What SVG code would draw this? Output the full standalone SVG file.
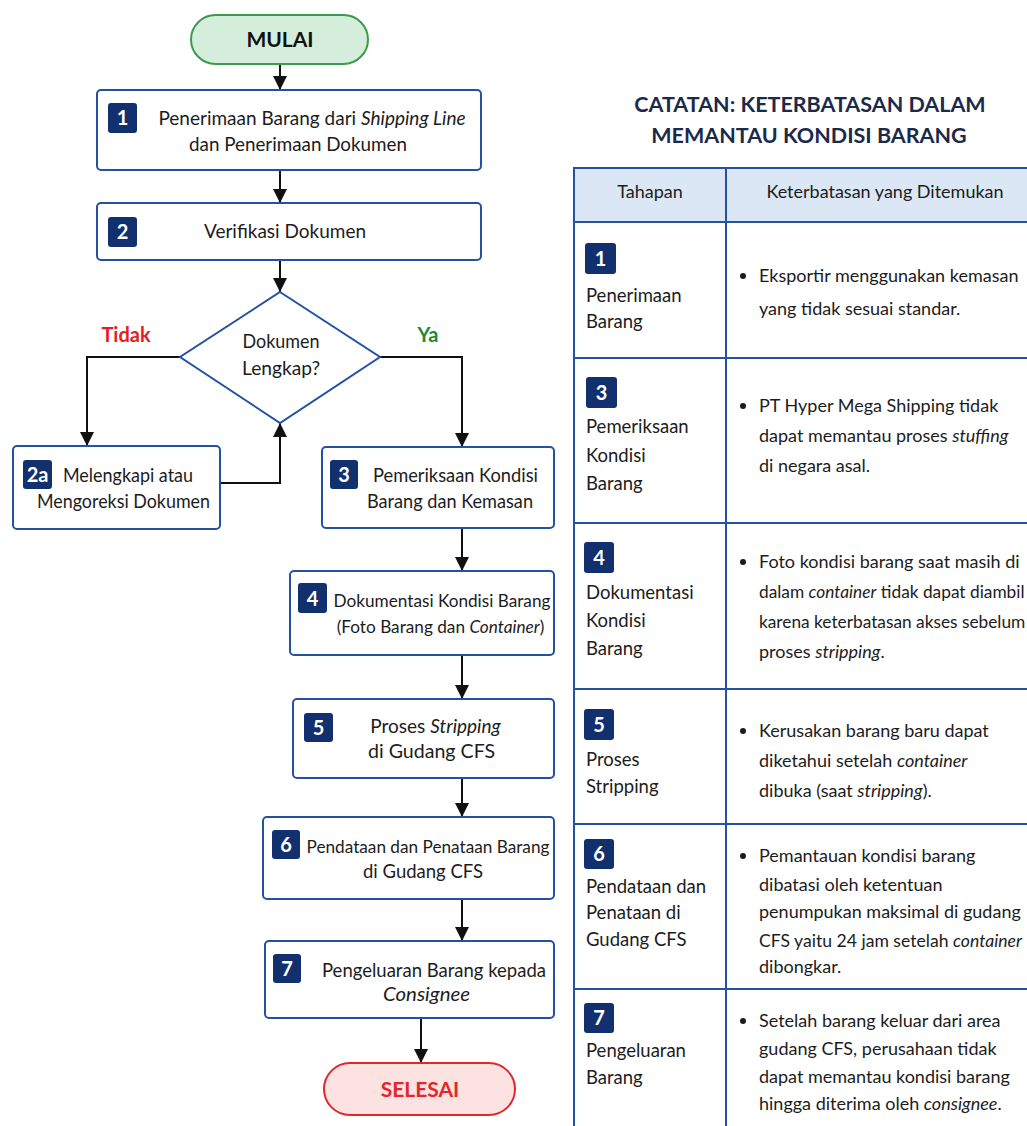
<svg xmlns="http://www.w3.org/2000/svg" width="1027" height="1126" viewBox="0 0 1027 1126">
<style>
.t{font-family:Lato,"Liberation Sans",sans-serif;font-size:18px;fill:#1c1c1c}
.f{font-family:Lato,"Liberation Sans",sans-serif;font-size:19px;fill:#1c1c1c;text-anchor:middle}
.l{font-family:Lato,"Liberation Sans",sans-serif;font-size:18.5px;fill:#1c1c1c}
.m{text-anchor:middle}
.i{font-style:italic}
.s17{font-size:17.2px}
.s174{font-size:17.3px}
.s176{font-size:17.6px}
.box{fill:#fff;stroke:#2451a3;stroke-width:2}
.badge{fill:#13306e}
.bn{font-family:Lato,"Liberation Sans",sans-serif;font-size:20px;font-weight:700;fill:#fff;text-anchor:middle}
.con{fill:none;stroke:#111;stroke-width:2}
.tb{fill:none;stroke:#2451a3;stroke-width:2}
.hd{font-family:Lato,"Liberation Sans",sans-serif;font-size:21.5px;font-weight:700;fill:#1b2a4a;text-anchor:middle}
</style>
<defs>
<marker id="ah" viewBox="0 0 14 14" refX="14" refY="7" markerWidth="14" markerHeight="14" markerUnits="userSpaceOnUse" orient="auto">
<path d="M0,0 L14,7 L0,14 z" fill="#111"/>
</marker>
</defs>
<rect width="1027" height="1126" fill="#fff"/>

<g id="connectors">
<path class="con" d="M280,64 V90" marker-end="url(#ah)"/>
<path class="con" d="M280,170 V203" marker-end="url(#ah)"/>
<path class="con" d="M280,260 V292" marker-end="url(#ah)"/>
<path class="con" d="M180,357 H87 V446" marker-end="url(#ah)"/>
<path class="con" d="M220,483 H280 V423" marker-end="url(#ah)"/>
<path class="con" d="M380,357 H462 V447" marker-end="url(#ah)"/>
<path class="con" d="M462,528 V571" marker-end="url(#ah)"/>
<path class="con" d="M462,655 V699" marker-end="url(#ah)"/>
<path class="con" d="M462,778 V817" marker-end="url(#ah)"/>
<path class="con" d="M462,899 V941" marker-end="url(#ah)"/>
<path class="con" d="M421,1018 V1063" marker-end="url(#ah)"/>
<text x="126" y="342" font-family="Lato,'Liberation Sans',sans-serif" font-size="20" font-weight="700" fill="#e3201f" text-anchor="middle">Tidak</text>
<text x="428" y="342" font-family="Lato,'Liberation Sans',sans-serif" font-size="20" font-weight="700" fill="#1f8a2f" text-anchor="middle">Ya</text>
</g>

<g id="mulai">
<rect x="191" y="15" width="177" height="49" rx="24.5" fill="#d5eedb" stroke="#3c9a4c" stroke-width="2"/>
<text x="280" y="47" font-family="Lato,'Liberation Sans',sans-serif" font-size="21" font-weight="700" fill="#111" text-anchor="middle">MULAI</text>
</g>

<g id="step1">
<rect class="box" x="97" y="90" width="384" height="80" rx="4"/>
<rect class="badge" x="108" y="103" width="29" height="30" rx="3"/>
<text class="bn" x="122.5" y="125">1</text>
<text class="f" x="312" y="125">Penerimaan Barang dari <tspan class="i">Shipping Line</tspan></text>
<text class="f" x="298" y="151" textLength="218" lengthAdjust="spacingAndGlyphs">dan Penerimaan Dokumen</text>
</g>

<g id="step2">
<rect class="box" x="97" y="203" width="384" height="57" rx="4"/>
<rect class="badge" x="108" y="217" width="29" height="30" rx="3"/>
<text class="bn" x="122.5" y="239">2</text>
<text class="f" x="285" y="238" textLength="162" lengthAdjust="spacingAndGlyphs">Verifikasi Dokumen</text>
</g>

<g id="decision">
<polygon points="280,292 380,357 280,423 180,357" fill="#fff" stroke="#2451a3" stroke-width="2"/>
<text class="f" x="281" y="348" textLength="77" lengthAdjust="spacingAndGlyphs">Dokumen</text>
<text class="f" x="281" y="375" textLength="78" lengthAdjust="spacingAndGlyphs">Lengkap?</text>
</g>

<g id="step2a">
<rect class="box" x="13" y="446" width="207" height="83" rx="4"/>
<rect class="badge" x="23" y="460" width="29" height="29" rx="3"/>
<text class="bn" x="37.5" y="482">2a</text>
<text class="f" x="128" y="482" textLength="130" lengthAdjust="spacingAndGlyphs">Melengkapi atau</text>
<text class="f" x="123.5" y="508" textLength="173" lengthAdjust="spacingAndGlyphs">Mengoreksi Dokumen</text>
</g>

<g id="step3">
<rect class="box" x="322" y="447" width="232" height="81" rx="4"/>
<rect class="badge" x="330" y="460" width="28" height="29" rx="3"/>
<text class="bn" x="344" y="482">3</text>
<text class="f" x="455.5" y="482" textLength="165" lengthAdjust="spacingAndGlyphs">Pemeriksaan Kondisi</text>
<text class="f" x="450" y="508" textLength="166" lengthAdjust="spacingAndGlyphs">Barang dan Kemasan</text>
</g>

<g id="step4">
<rect class="box" x="290" y="571" width="264" height="84" rx="4"/>
<rect class="badge" x="298" y="583" width="29" height="30" rx="3"/>
<text class="bn" x="312.5" y="606">4</text>
<text class="f s17" x="442" y="607">Dokumentasi Kondisi Barang</text>
<text class="f s17" x="440.5" y="633">(Foto Barang dan <tspan class="i">Container</tspan>)</text>
</g>

<g id="step5">
<rect class="box" x="293" y="699" width="261" height="79" rx="4"/>
<rect class="badge" x="304" y="713" width="29" height="29" rx="3"/>
<text class="bn" x="318.5" y="735">5</text>
<text class="f" x="435.5" y="733">Proses <tspan class="i">Stripping</tspan></text>
<text class="f" x="431.5" y="758" textLength="127" lengthAdjust="spacingAndGlyphs">di Gudang CFS</text>
</g>

<g id="step6">
<rect class="box" x="263" y="817" width="291" height="82" rx="4"/>
<rect class="badge" x="272" y="830" width="28" height="29" rx="3"/>
<text class="bn" x="286" y="852">6</text>
<text class="f s17" x="428" y="853">Pendataan dan Penataan Barang</text>
<text class="f" x="423" y="878" textLength="120" lengthAdjust="spacingAndGlyphs">di Gudang CFS</text>
</g>

<g id="step7">
<rect class="box" x="265" y="941" width="289" height="77" rx="4"/>
<rect class="badge" x="273" y="954" width="28" height="29" rx="3"/>
<text class="bn" x="287" y="976">7</text>
<text class="f" x="434" y="977" textLength="224" lengthAdjust="spacingAndGlyphs">Pengeluaran Barang kepada</text>
<text class="f i" x="426.5" y="1001" textLength="87" lengthAdjust="spacingAndGlyphs">Consignee</text>
</g>

<g id="selesai">
<rect x="324" y="1063" width="191" height="52" rx="26" fill="#fde2e2" stroke="#e2262b" stroke-width="2"/>
<text x="420" y="1097" font-family="Lato,'Liberation Sans',sans-serif" font-size="21" font-weight="700" fill="#e2262b" text-anchor="middle">SELESAI</text>
</g>

<g id="catatan">
<text class="hd" x="810" y="112">CATATAN: KETERBATASAN DALAM</text>
<text class="hd" x="809" y="143">MEMANTAU KONDISI BARANG</text>
<rect x="574" y="168" width="460" height="54" fill="#dbe7f4"/>
<path class="tb" d="M574,1130 V168 H1034 M726,168 V1130 M574,222 H1034 M574,358 H1034 M574,523 H1034 M574,689 H1034 M574,824 H1034 M574,989 H1034"/>
<text class="t m" x="650" y="198">Tahapan</text>
<text class="t m" x="885" y="198">Keterbatasan yang Ditemukan</text>

<rect class="badge" x="585" y="243" width="31" height="31" rx="3"/>
<text class="bn" x="600.5" y="266">1</text>
<text class="l" x="586" y="302">Penerimaan</text>
<text class="l" x="586" y="328">Barang</text>
<circle cx="743" cy="276" r="3" fill="#1c1c1c"/>
<text class="t" x="759" y="282">Eksportir menggunakan kemasan</text>
<text class="t" x="759" y="315">yang tidak sesuai standar.</text>

<rect class="badge" x="586" y="377" width="31" height="31" rx="3"/>
<text class="bn" x="601.5" y="400">3</text>
<text class="l" x="586" y="433">Pemeriksaan</text>
<text class="l" x="586" y="462">Kondisi</text>
<text class="l" x="586" y="490">Barang</text>
<circle cx="743" cy="406" r="3" fill="#1c1c1c"/>
<text class="t" x="759" y="412">PT Hyper Mega Shipping tidak</text>
<text class="t" x="759" y="442">dapat memantau proses <tspan class="i">stuffing</tspan></text>
<text class="t" x="759" y="472">di negara asal.</text>

<rect class="badge" x="584" y="542" width="30" height="31" rx="3"/>
<text class="bn" x="599" y="565">4</text>
<text class="l" x="586" y="599">Dokumentasi</text>
<text class="l" x="586" y="627">Kondisi</text>
<text class="l" x="586" y="655">Barang</text>
<circle cx="743" cy="562" r="3" fill="#1c1c1c"/>
<text class="t" x="759" y="568">Foto kondisi barang saat masih di</text>
<text class="t s174" x="759" y="598">dalam <tspan class="i">container</tspan> tidak dapat diambil</text>
<text class="t s174" x="759" y="628">karena keterbatasan akses sebelum</text>
<text class="t" x="759" y="658">proses <tspan class="i">stripping</tspan>.</text>

<rect class="badge" x="584" y="709" width="30" height="31" rx="3"/>
<text class="bn" x="599" y="732">5</text>
<text class="l" x="586" y="766">Proses</text>
<text class="l" x="586" y="793">Stripping</text>
<circle cx="743" cy="731" r="3" fill="#1c1c1c"/>
<text class="t" x="759" y="737">Kerusakan barang baru dapat</text>
<text class="t" x="759" y="767">diketahui setelah <tspan class="i">container</tspan></text>
<text class="t" x="759" y="797">dibuka (saat <tspan class="i">stripping</tspan>).</text>

<rect class="badge" x="584" y="839" width="30" height="30" rx="3"/>
<text class="bn" x="599" y="861">6</text>
<text class="l" x="586" y="893">Pendataan dan</text>
<text class="l" x="586" y="919">Penataan di</text>
<text class="l" x="586" y="946">Gudang CFS</text>
<circle cx="743" cy="856" r="3" fill="#1c1c1c"/>
<text class="t" x="759" y="862">Pemantauan kondisi barang</text>
<text class="t" x="759" y="891">dibatasi oleh ketentuan</text>
<text class="t" x="759" y="918">penumpukan maksimal di gudang</text>
<text class="t s176" x="759" y="947">CFS yaitu 24 jam setelah <tspan class="i">container</tspan></text>
<text class="t" x="759" y="973">dibongkar.</text>

<rect class="badge" x="584" y="1003" width="30" height="30" rx="3"/>
<text class="bn" x="599" y="1025">7</text>
<text class="l" x="586" y="1057">Pengeluaran</text>
<text class="l" x="586" y="1084">Barang</text>
<circle cx="743" cy="1021" r="3" fill="#1c1c1c"/>
<text class="t" x="759" y="1027">Setelah barang keluar dari area</text>
<text class="t" x="759" y="1055">gudang CFS, perusahaan tidak</text>
<text class="t" x="759" y="1083">dapat memantau kondisi barang</text>
<text class="t" x="759" y="1110">hingga diterima oleh <tspan class="i">consignee</tspan>.</text>
</g>
</svg>
